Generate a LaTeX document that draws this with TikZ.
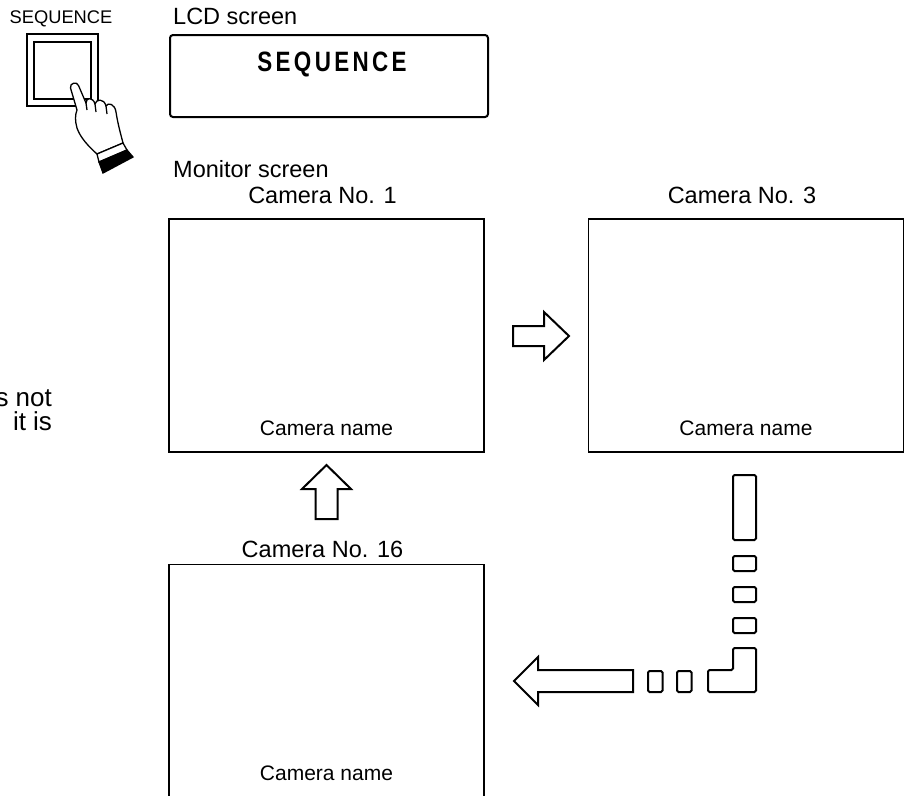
\documentclass[tikz,border=0pt]{standalone}
\usepackage{fontspec}
\setmainfont{Liberation Sans}
\newfontfamily\lcdfont[LetterSpace=12,FakeStretch=0.8]{Liberation Sans}
\usetikzlibrary{calc,positioning}
\tikzset{
screen/.style={draw,line width=1.5pt,minimum width=315pt,minimum height=233pt,inner sep=0pt},
lcd/.style={draw,line width=2pt,rounded corners=3pt,minimum width=318pt,minimum height=82pt,inner sep=0pt},
caption/.style={anchor=base,inner sep=0pt,font=\fontsize{23.5}{26}\selectfont},
camname/.style={anchor=base,inner sep=0pt,font=\fontsize{21}{24}\selectfont},
blockarrow/.style={draw,line width=2pt,fill=white,line join=miter},
seg/.style={draw,line width=2pt,rounded corners=1.5pt}}

\begin{document}
\begin{tikzpicture}[x=1pt,y=-1pt]

\useasboundingbox (0,0) rectangle (906,796);
\clip (0,0) rectangle (906,796);

      % key with the pressing hand
      \node[anchor=base,inner sep=0pt,font=\fontsize{18.3}{20}\selectfont] (key) at (61,23) {SEQUENCE};
      \draw[line width=1.3pt] (27,34) rectangle (98,106);
      \draw[line width=1.3pt] (34,42) rectangle (91,99);
      \draw[line width=1.3pt,fill=white,line join=round]
        (77,110) -- (70.5,88) .. controls (69.5,83) and (77,81) .. (78.5,85.5)
        -- (86,103) .. controls (86,97) and (93,97) .. (95,104)
        .. controls (96,99) and (104,98) .. (106,106)
        .. controls (108,102) and (115,104) .. (116,112)
        .. controls (118,125) and (121,135) .. (123,143)
        -- (97,154) .. controls (88,146) and (80,137) .. (77,128)
        .. controls (75,121) and (75,115) .. (77,110) -- cycle;
      \draw[line width=1.3pt] (86,103) -- (87,110) (95,104) -- (96,112) (106,106) -- (107,114);
      \draw[line width=1.3pt,fill=white] (97,154) -- (123,143) -- (127,150) -- (99,162) -- cycle;
      \draw[line width=1.3pt,fill=black] (99,162) -- (127,150) -- (133,157) -- (103,173) -- cycle;

      % LCD
      \node[anchor=base west,inner sep=0pt,font=\fontsize{23.5}{26}\selectfont] (lcdlabel) at (173,24) {LCD screen};
      \node[lcd] (lcd) at (329,76) {};
      \node[anchor=base,inner sep=0pt,font=\lcdfont\bfseries\fontsize{28}{30}\selectfont] (lcdtext) at (332,71) {SEQUENCE};

      % text cut at the left edge
      \node[anchor=base east,inner sep=0pt,font=\fontsize{26}{28}\selectfont] (txt1) at (52,406) {s\hspace{7pt}not};
      \node[anchor=base east,inner sep=0pt,font=\fontsize{26}{28}\selectfont] (txt2) at (52,430) {it\hspace{7pt}is};

      % monitor screens
      \node[anchor=base west,inner sep=0pt,font=\fontsize{23.5}{26}\selectfont] (monlabel) at (173,177) {Monitor screen};
      \node[screen] (cam1) at (326.5,335.5) {};
      \node[screen,right=103pt of cam1] (cam3) {};
      \node[screen,minimum height=245pt,below=111pt of cam1] (cam16) {};

      \node[caption] at ($(cam1.north)+(-4,-15)$) {Camera No. 1};
      \node[caption] at ($(cam3.north)+(-4,-15)$) {Camera No. 3};
      \node[caption] at ($(cam16.north)+(-4,-6)$) {Camera No. 16};

      \node[camname] at ($(cam1.south)+(0,-17)$) {Camera name};
      \node[camname] at ($(cam3.south)+(0,-17)$) {Camera name};
      \node[camname] at ($(cam16.north)+(0,217)$) {Camera name};

      % sequence arrows
      \draw[blockarrow] (513,326) -- (544,326) -- (544,312) -- (569,336) -- (544,360) -- (544,346) -- (513,346) -- cycle;
      \draw[blockarrow] (315.5,519) -- (315.5,489) -- (302,489) -- (326.5,465) -- (351,489) -- (337.5,489) -- (337.5,519) -- cycle;
      \draw[blockarrow] (633,670) -- (538,670) -- (538,657) -- (514,681) -- (538,705) -- (538,692) -- (633,692) -- cycle;

      \draw[seg] (733,475) rectangle (756,540);
      \foreach \y in {556,587,618}
        \draw[seg] (733,\y) rectangle (756,\y+15);
      \draw[seg] (708,670) -- (733,670) -- (733,648) -- (756,648) -- (756,692) -- (708,692) -- cycle;
      \foreach \x in {648,677}
        \draw[seg] (\x,671) rectangle (\x+14.5,692);
\end{tikzpicture}
\end{document}
